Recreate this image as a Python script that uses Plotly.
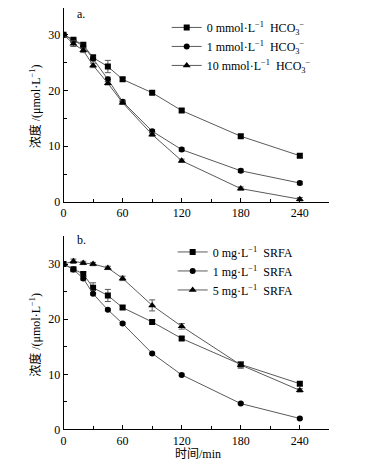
import plotly.graph_objects as go

time_min = [0, 10, 20, 30, 45, 60, 90, 120, 180, 240]

# Panel a: HCO3- concentrations
a_names = ["0 mmol·L<sup>−1</sup>  HCO<sub>3</sub><sup>−</sup>",
           "1 mmol·L<sup>−1</sup>  HCO<sub>3</sub><sup>−</sup>",
           "10 mmol·L<sup>−1</sup>  HCO<sub>3</sub><sup>−</sup>"]
a_0 = [30.0, 29.1, 28.2, 25.9, 24.3, 22.0, 19.6, 16.4, 11.8, 8.3]
a_1 = [30.0, 29.0, 28.0, 25.7, 22.0, 18.0, 12.7, 9.4, 5.6, 3.4]
a_10 = [30.0, 28.4, 27.2, 24.5, 21.3, 17.8, 12.1, 7.4, 2.4, 0.5]
a_0_err = [0, 0.3, 0.3, 0.5, 1.1, 0.3, 0.3, 0.3, 0.3, 0.3]
a_1_err = [0, 0.3, 0.3, 0.3, 0.4, 0.3, 0.3, 0.3, 0.3, 0.3]
a_10_err = [0, 0.5, 0.4, 0.4, 0.3, 0.3, 0.3, 0.3, 0.3, 0.3]

# Panel b: SRFA concentrations
b_names = ["0 mg·L<sup>−1</sup>  SRFA",
           "1 mg·L<sup>−1</sup>  SRFA",
           "5 mg·L<sup>−1</sup>  SRFA"]
b_0 = [30.0, 29.05, 28.2, 25.7, 24.3, 22.1, 19.5, 16.5, 11.8, 8.3]
b_1 = [30.0, 29.0, 27.4, 24.6, 21.7, 19.2, 13.8, 9.9, 4.7, 2.0]
b_5 = [30.0, 30.5, 30.2, 30.0, 29.3, 27.4, 22.5, 18.7, 11.7, 7.1]
b_0_err = [0, 0.3, 0.4, 0.9, 1.1, 0.3, 0.3, 0.3, 0.4, 0.3]
b_1_err = [0, 0.2, 0.3, 0.2, 0.2, 0.2, 0.2, 0.2, 0.2, 0.2]
b_5_err = [0, 0.4, 0.3, 0.3, 0.3, 0.4, 1.0, 0.5, 0.6, 0.3]

x_ticks = [0, 60, 120, 180, 240]
y_ticks = [0, 10, 20, 30]

symbols = ["square", "circle", "triangle-up"]
sizes = [6, 6, 7]
LINE = "#5a5a5a"
SERIF = "Liberation Serif"
MIXED = "Liberation Serif, Noto Sans CJK SC"

# page body has an 8px default margin on every side; size the figure so the
# whole page is exactly 372 x 476
OFF = 8
W, H = 372 - OFF, 476 - 2 * OFF


def px(X):
    return (X - OFF) / W


def py(Y):
    return 1 - (Y - OFF) / H


fig = go.Figure()


def add_series(ys, errs, names, xa, ya, legend):
    for y, e, n, s, sz in zip(ys, errs, names, symbols, sizes):
        fig.add_trace(go.Scatter(
            x=time_min, y=y, name=n, mode="lines+markers",
            xaxis=xa, yaxis=ya, legend=legend,
            line=dict(color=LINE, width=1),
            marker=dict(symbol=s, size=sz, color="black"),
            error_y=dict(type="data", array=e, color=LINE, thickness=1, width=3),
        ))


add_series([a_0, a_1, a_10], [a_0_err, a_1_err, a_10_err], a_names, "x", "y", "legend")
add_series([b_0, b_1, b_5], [b_0_err, b_1_err, b_5_err], b_names, "x2", "y2", "legend2")

xdom = [px(61), px(329)]
axis_common = dict(
    showline=True, linecolor="black", linewidth=1, showgrid=False, zeroline=False,
    ticks="inside", ticklen=4, tickcolor="black", tickwidth=1,
    tickfont=dict(family=SERIF, size=12, color="black"),
    minor=dict(ticks="inside", ticklen=3, tickcolor="black", tickwidth=1),
)
fig.update_layout(
    width=W, height=H, margin=dict(l=0, r=0, t=0, b=0),
    plot_bgcolor="white", paper_bgcolor="white", showlegend=True,
    xaxis=dict(domain=xdom, anchor="y", range=[0, 270], tickvals=x_ticks,
               minor_dtick=30, minor_tick0=0, **axis_common),
    yaxis=dict(domain=[py(205), py(8)], anchor="x", range=[0, 34.8],
               tickvals=y_ticks, minor_dtick=5, minor_tick0=0, **axis_common),
    xaxis2=dict(domain=xdom, anchor="y2", range=[0, 270], tickvals=x_ticks,
                minor_dtick=30, minor_tick0=0, **axis_common),
    yaxis2=dict(domain=[py(436), py(240)], anchor="x2", range=[0, 35],
                tickvals=y_ticks, minor_dtick=5, minor_tick0=0, **axis_common),
    legend=dict(x=px(165), y=py(13), xanchor="left", yanchor="top",
                font=dict(family=SERIF, size=12, color="black"),
                bgcolor="rgba(0,0,0,0)", tracegroupgap=0, itemwidth=30),
    legend2=dict(x=px(171), y=py(241), xanchor="left", yanchor="top",
                 font=dict(family=SERIF, size=12, color="black"),
                 bgcolor="rgba(0,0,0,0)", tracegroupgap=0, itemwidth=30),
)

ann_font = dict(family=SERIF, size=12, color="black")
title_font = dict(family=MIXED, size=12, color="black")


def note(text, X, Y, font, angle=0):
    fig.add_annotation(text=text, x=px(X), y=py(Y), xref="paper", yref="paper",
                       xanchor="center", yanchor="middle", showarrow=False,
                       textangle=angle, font=font)


note("a.", 79, 14, ann_font)
note("b.", 79, 244, ann_font)
note("浓度 /(μmol·L<sup>−1</sup>)", 33, 108, title_font, -90)
note("浓度 /(μmol·L<sup>−1</sup>)", 33, 340, title_font, -90)
note("时间/min", 197, 461, title_font)

fig.write_html("out.html")
